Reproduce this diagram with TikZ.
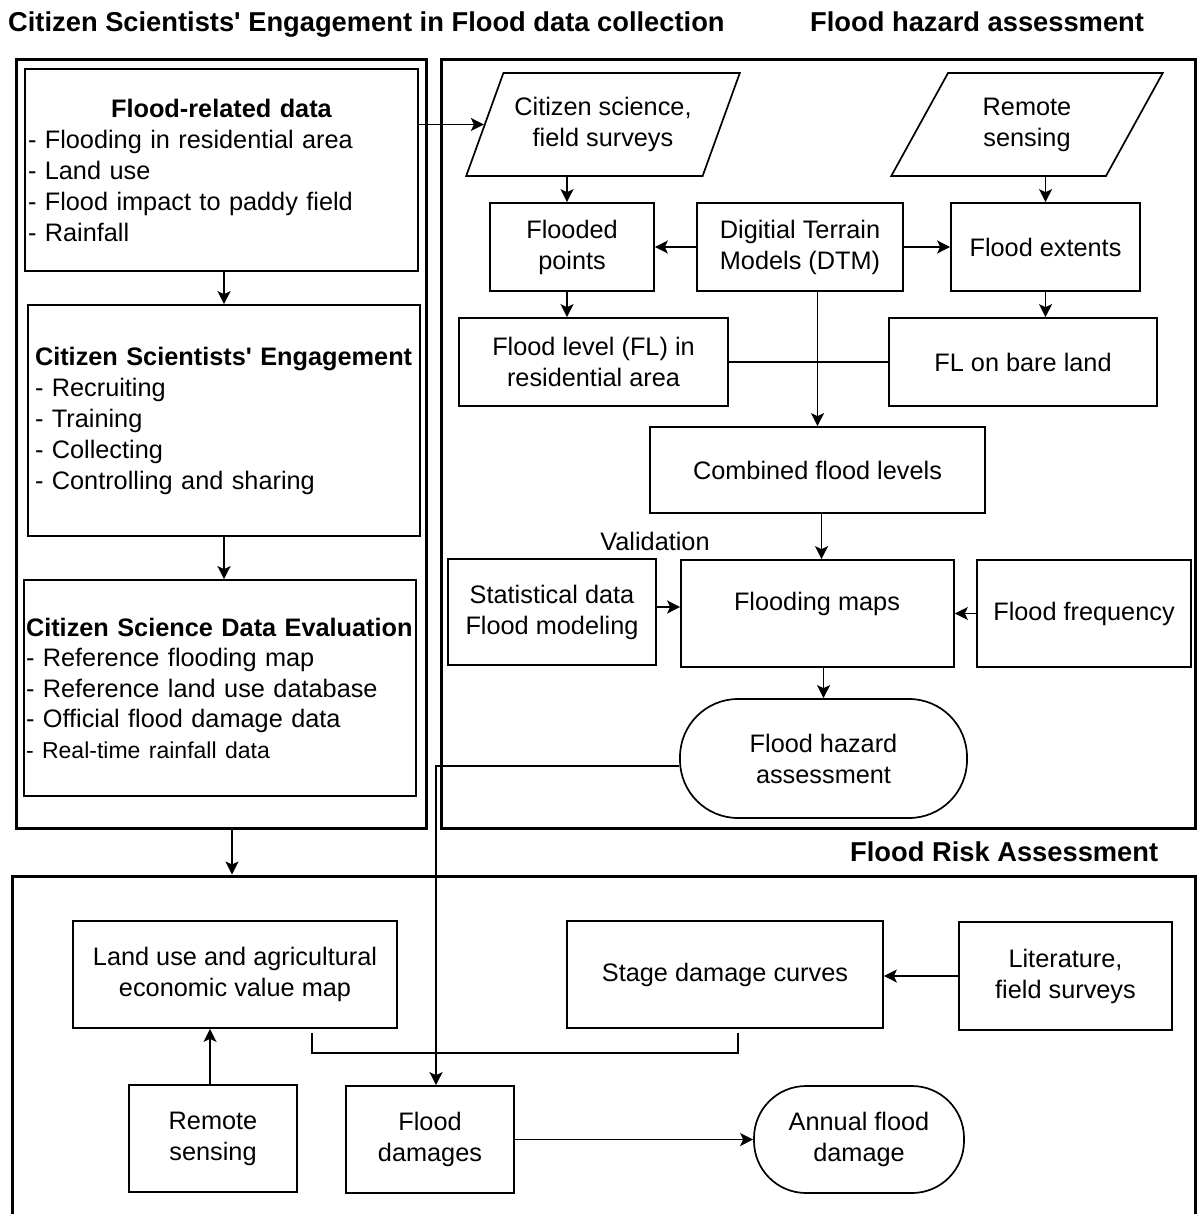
\documentclass[tikz,border=0pt]{standalone}
\usepackage{fontspec}
\setmainfont{Liberation Sans}
\usetikzlibrary{arrows.meta,shapes.geometric}

\begin{document}
\begin{tikzpicture}[x=1pt,y=-1pt,
  every node/.style={font=\fontsize{25.3}{31}\selectfont},
  span/.style n args={4}{at={({(#1+#3)/2},{(#2+#4)/2})},
    minimum width={#3-#1}, minimum height={#4-#2}},
  box/.style={draw, line width=1.7pt, inner sep=0pt, align=center},
  frame/.style={draw, line width=3pt, inner sep=0pt},
  stadium/.style={box, rounded corners=#1},
  para/.style={draw, line width=1.7pt, trapezium, trapezium left angle=60,
    trapezium right angle=120, trapezium stretches=true, align=center, inner sep=2pt},
  conn/.style={line width=1.6pt, -{Stealth[length=13pt,width=13pt,inset=3pt]}},
  plain/.style={line width=1.6pt},
  heading/.style={font=\fontsize{27.3}{30}\selectfont\bfseries, anchor=base west, inner sep=0pt},
]
\useasboundingbox (0,0) rectangle (1197,1214);

% ---- section frames ----
\node[frame, span={16}{60}{426}{828}] (lf) {};
\node[frame, span={441}{60}{1195}{828}] (rf) {};
\node[frame, span={12}{876}{1195}{1240}] (bf) {};

% ---- section headings ----
\node[heading] (h1) at (8,32) {Citizen Scientists\textquotesingle{} Engagement in Flood data collection};
\node[heading] (h2) at (810,32) {Flood hazard assessment};
\node[heading] (h3) at (850,861) {Flood Risk Assessment};

% ---- citizen science column ----
\node[box, span={25}{69}{418}{271}, text width=387, align=left] (fr)
  {\hfill\textbf{Flood-related data}\hfill\null\\
   - Flooding in residential area\\
   - Land use\\
   - Flood impact to paddy field\\
   - Rainfall};
\node[box, span={28}{305}{420}{536}, text width=378, align=left] (eng)
  {\textbf{Citizen Scientists\textquotesingle{} Engagement}\\
   - Recruiting\\
   - Training\\
   - Collecting\\
   - Controlling and sharing};
\node[box, span={24}{580}{416}{796}, text width=388, align=left,
      font=\fontsize{25.3}{30.5}\selectfont] (ev)
  {\textbf{Citizen Science Data Evaluation}\\
   - Reference flooding map\\
   - Reference land use database\\
   - Official flood damage data\\
   {\fontsize{23}{30}\selectfont - Real-time rainfall data}};

\draw[conn] (eng.north |- fr.south) -- (eng.north);
\draw[conn] (eng.south) -- (eng.south |- ev.north);
\draw[conn] ([xshift=11pt]lf.south) -- ([xshift=11pt]lf.south |- bf.north);

% ---- flood hazard assessment ----
\node[para, minimum width=274, minimum height=103] (cs) at (603,124.5)
  {Citizen science,\\field surveys};
\node[para, minimum width=272, minimum height=103] (rs) at (1027,124.5)
  {Remote\\sensing};
\node[box, span={490}{203}{654}{291}] (fp) {Flooded\\points};
\node[box, span={697}{203}{903}{291}] (dtm) {Digitial Terrain\\Models (DTM)};
\node[box, span={951}{203}{1140}{291}] (fe) {Flood extents};
\node[box, span={459}{318}{728}{406}] (fl) {Flood level (FL) in\\residential area};
\node[box, span={889}{318}{1157}{406}] (bare) {FL on bare land};
\node[box, span={650}{427}{985}{513}] (comb) {Combined flood levels};
\node (val) at (655,541) {Validation};
\node[box, span={448}{559}{656}{665}] (stat) {Statistical data\\Flood modeling};
\node[box, span={681}{560}{954}{667}] (maps) {};
\node (mapst) at (817,604) {Flooding maps};
\node[box, span={977}{560}{1191}{667}] (freq) {Flood frequency};
\node[stadium=58pt, span={680}{699}{967}{818}] (hz) {Flood hazard\\assessment};

\draw[conn] (fr.east |- cs.west) -- (cs.west);
\draw[conn] ([xshift=-5pt]fp.north |- cs.south) -- ([xshift=-5pt]fp.north);
\draw[conn] (fe.north |- rs.south) -- (fe.north);
\draw[conn] (dtm.west) -- (fp.east);
\draw[conn] (dtm.east) -- (fe.west);
\draw[conn] ([xshift=-5pt]fp.south) -- ([xshift=-5pt]fp.south |- fl.north);
\draw[conn] (fe.south) -- (fe.south |- bare.north);
\draw[plain] (fl.east) -- (bare.west);
\draw[conn] (comb.north |- dtm.south) -- (comb.north);
\draw[conn] ([xshift=4pt]comb.south) -- ([xshift=4pt]comb.south |- maps.north);
\draw[conn] ([yshift=5pt]stat.east) -- ([yshift=5pt]stat.east -| maps.west);
\draw[conn] (freq.west) -- (freq.west -| maps.east);
\draw[conn] (hz.north |- maps.south) -- (hz.north);

% ---- flood risk assessment ----
\node[box, span={73}{921}{397}{1028}] (lu) {Land use and agricultural\\economic value map};
\node[box, span={567}{921}{883}{1028}] (sd) {Stage damage curves};
\node[box, span={959}{922}{1172}{1030}] (lit) {Literature,\\field surveys};
\node[box, span={129}{1085}{297}{1192}] (rs2) {Remote\\sensing};
\node[box, span={346}{1086}{514}{1193}] (dmg) {Flood\\damages};
\node[stadium=52pt, span={754}{1086}{964}{1193}] (ann) {Annual flood\\damage};

\coordinate (j1) at (312,1053);
\coordinate (j2) at (738,1053);
\coordinate (bend) at (436,766);

\draw[conn] (lit.west) -- (lit.west -| sd.east);
\draw[plain] ([yshift=-4pt]lu.south -| j1) -- (j1) -- (j2) -- ([yshift=-4pt]sd.south -| j2);
\draw[conn] ([xshift=-3pt]rs2.north) -- ([xshift=-3pt]rs2.north |- lu.south);
\draw[conn] (dmg.east) -- (ann.west);
\draw[conn] (bend -| hz.west) -- (bend) -- (bend |- dmg.north);
\end{tikzpicture}
\end{document}
